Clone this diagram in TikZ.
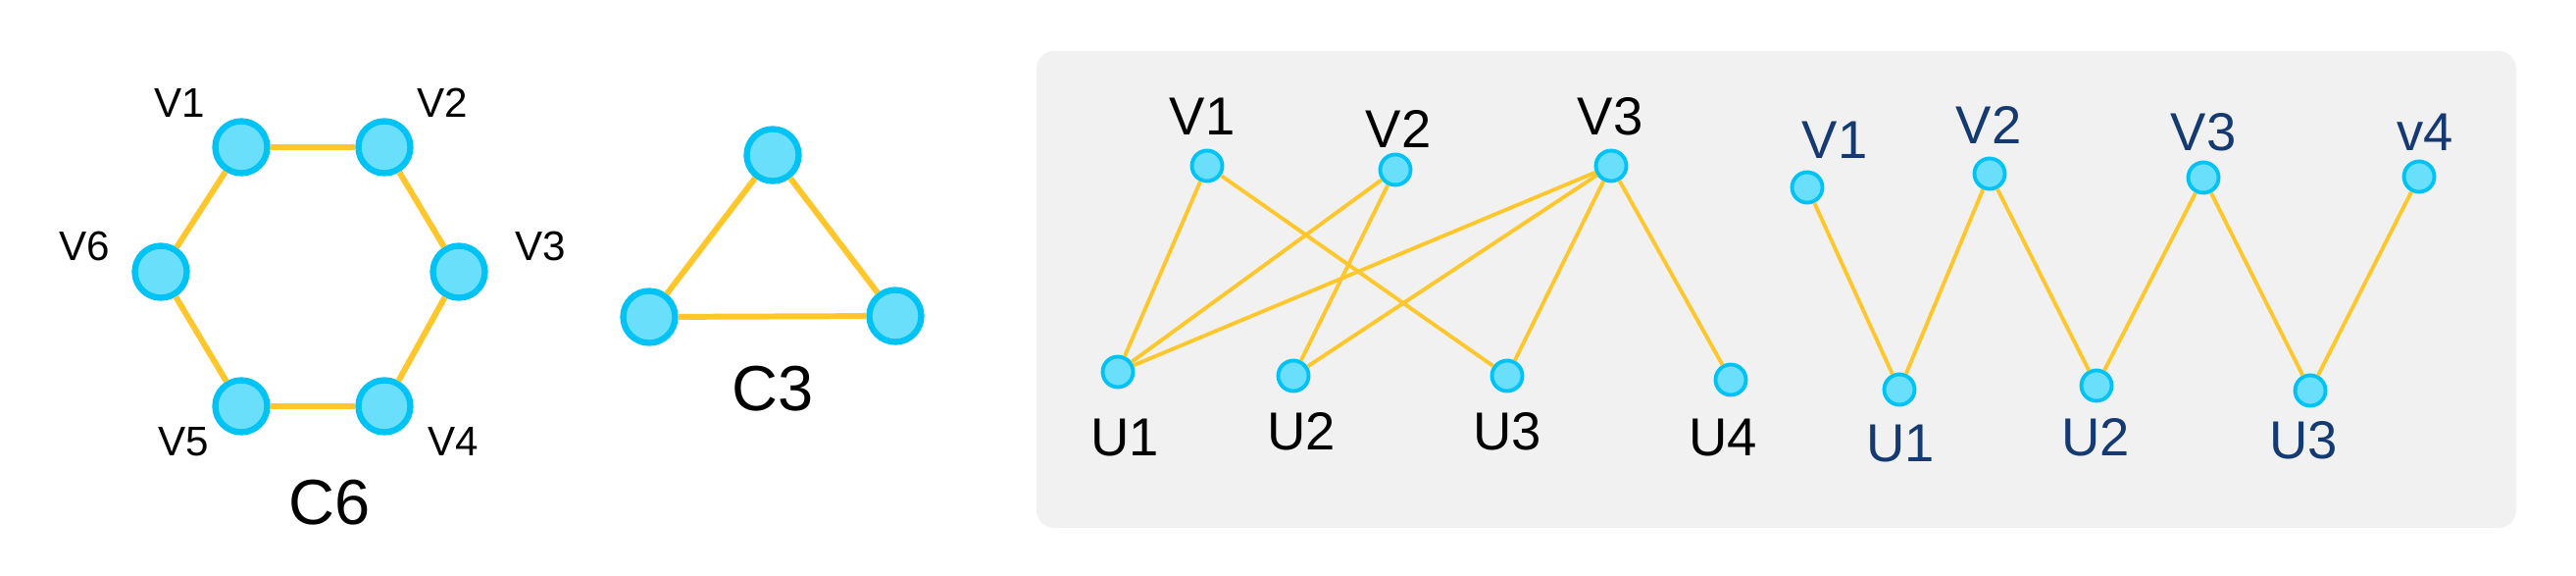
\documentclass[tikz,border=0pt]{standalone}
\usepackage{fontspec}
\setmainfont{Liberation Sans}
\usepackage{tikz}
\definecolor{dotfill}{HTML}{6ADFFB}
\definecolor{dotline}{HTML}{00C3F5}
\definecolor{edgeyellow}{HTML}{FFC72C}
\definecolor{labelnavy}{HTML}{153A72}
\definecolor{panelgray}{HTML}{F1F1F1}

\begin{document}
\begin{tikzpicture}[
  bigdot/.style={draw=dotline,fill=dotfill,circle,line width=1.8pt,minimum size=0.53cm,inner sep=0pt},
  smalldot/.style={draw=dotline,fill=dotfill,circle,line width=1.1pt,minimum size=0.31cm,inner sep=0pt},
  thickedge/.style={draw=edgeyellow,line width=1.7pt},
  thinedge/.style={draw=edgeyellow,line width=1.1pt},
  smalllab/.style={font=\fontsize{12}{14}\selectfont},
  midlab/.style={font=\fontsize{15.5}{18}\selectfont},
  titlelab/.style={font=\fontsize{18.5}{22}\selectfont}
]
\useasboundingbox (0,0) rectangle (26.27,5.86);

% Cycle C6
\foreach \id/\x/\y in {a1/2.46/4.36, a2/3.92/4.36, a3/4.68/3.09, a4/3.92/1.72, a5/2.46/1.72, a6/1.64/3.09} {
  \node[bigdot] (\id) at (\x,\y) {};
}
\foreach \s/\t in {a1/a2, a2/a3, a3/a4, a4/a5, a5/a6, a6/a1} {
  \draw[thickedge] (\s) -- (\t);
}
\foreach \id/\txt/\x/\y in {la1/V1/1.83/4.81, la2/V2/4.51/4.81, la3/V3/5.51/3.35,
                            la4/V4/4.62/1.36, la5/V5/1.87/1.36, la6/V6/0.86/3.35} {
  \node[smalllab] (\id) at (\x,\y) {\txt};
}
\node[titlelab] (c6) at (3.36,0.74) {C6};

% Cycle C3
\node[bigdot] (b1) at (7.88,4.28) {};
\node[bigdot] (b2) at (6.62,2.63) {};
\node[bigdot] (b3) at (9.13,2.64) {};
\draw[thickedge] (b1) -- (b3) -- (b2) -- (b1);
\node[titlelab] (c3) at (7.88,1.90) {C3};

% Panel
\node[fill=panelgray,rounded corners=0.18cm,minimum width=15.09cm,minimum height=4.86cm,inner sep=0pt]
  (panel) at (18.115,2.91) {};

% Left bipartite graph
\foreach \id/\x/\y in {p1/12.31/4.17, p2/14.23/4.13, p3/16.43/4.17} {
  \node[smalldot] (\id) at (\x,\y) {};
}
\foreach \id/\x/\y in {q1/11.40/2.07, q2/13.19/2.03, q3/15.37/2.03, q4/17.65/1.99} {
  \node[smalldot] (\id) at (\x,\y) {};
}
\foreach \s/\t in {p1/q1, p1/q3, p2/q1, p2/q2, p3/q1, p3/q2, p3/q3, p3/q4} {
  \draw[thinedge] (\s) -- (\t);
}
\foreach \id/\txt/\x/\y in {lp1/V1/12.26/4.67, lp2/V2/14.26/4.55, lp3/V3/16.42/4.67,
                            lq1/U1/11.47/1.40, lq2/U2/13.27/1.46, lq3/U3/15.37/1.46, lq4/U4/17.57/1.40} {
  \node[midlab] (\id) at (\x,\y) {\txt};
}

% Right bipartite graph (path)
\foreach \id/\x/\y in {r1/18.43/3.95, r2/20.29/4.09, r3/22.47/4.05, r4/24.67/4.06} {
  \node[smalldot] (\id) at (\x,\y) {};
}
\foreach \id/\x/\y in {s1/19.37/1.89, s2/21.38/1.93, s3/23.56/1.88} {
  \node[smalldot] (\id) at (\x,\y) {};
}
\draw[thinedge] (r1) -- (s1) -- (r2) -- (s2) -- (r3) -- (s3) -- (r4);
\foreach \id/\txt/\x/\y in {lr1/V1/18.71/4.43, lr2/V2/20.28/4.59, lr3/V3/22.47/4.51, lr4/v4/24.73/4.51,
                            ls1/U1/19.38/1.34, ls2/U2/21.37/1.40, ls3/U3/23.49/1.37} {
  \node[midlab,text=labelnavy] (\id) at (\x,\y) {\txt};
}

\end{tikzpicture}
\end{document}
